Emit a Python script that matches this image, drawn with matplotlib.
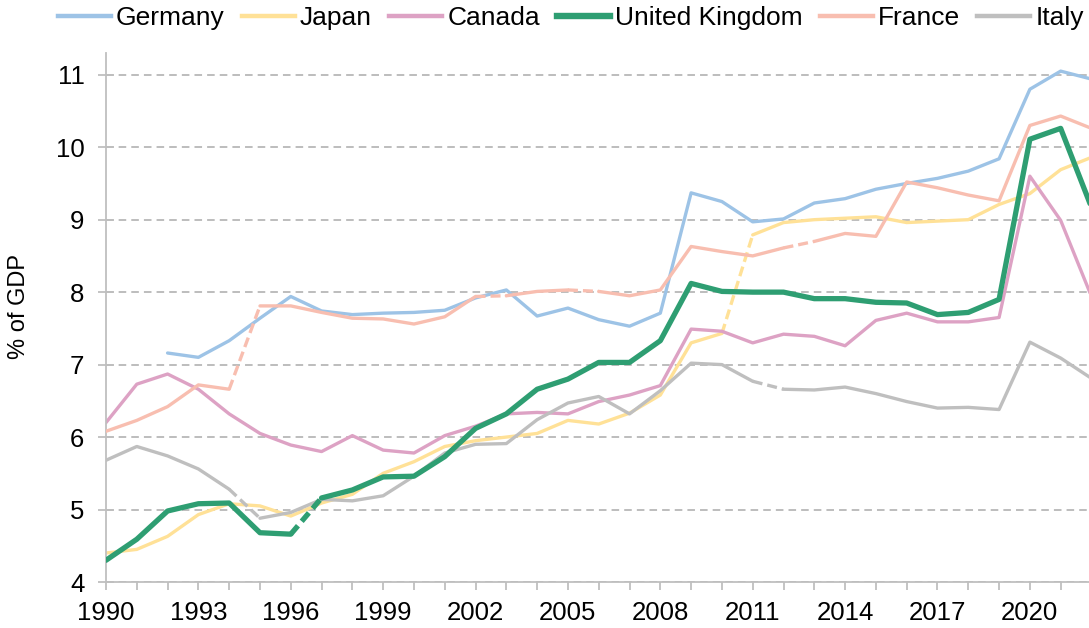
import numpy as np
import matplotlib
matplotlib.use("Agg")
import matplotlib.pyplot as plt
from matplotlib.lines import Line2D

plt.rcParams['font.family'] = ['Liberation Sans', 'DejaVu Sans']

years = list(range(1990, 2023))

nan = np.nan
germany = [nan, nan, 7.16, 7.10, 7.33, 7.64, 7.94, 7.74, 7.69, 7.71, 7.72, 7.75,
           7.92, 8.03, 7.67, 7.78, 7.62, 7.53, 7.71, 9.37, 9.25, 8.97, 9.01, 9.23,
           9.29, 9.42, 9.50, 9.57, 9.67, 9.84, 10.80, 11.05, 10.94]
japan = [4.40, 4.45, 4.63, 4.93, 5.08, 5.05, 4.91, 5.09, 5.21, 5.50, 5.66, 5.87,
         5.95, 6.00, 6.05, 6.23, 6.18, 6.33, 6.58, 7.30, 7.43, 8.79, 8.96, 9.00,
         9.02, 9.04, 8.96, 8.98, 9.00, 9.21, 9.36, 9.69, 9.86]
canada = [6.20, 6.73, 6.87, 6.66, 6.32, 6.05, 5.89, 5.80, 6.02, 5.82, 5.78, 6.02,
          6.15, 6.32, 6.34, 6.32, 6.49, 6.58, 6.71, 7.49, 7.46, 7.30, 7.42, 7.39,
          7.26, 7.61, 7.71, 7.59, 7.59, 7.65, 9.60, 8.99, 7.94]
uk = [4.30, 4.59, 4.98, 5.08, 5.09, 4.68, 4.66, 5.16, 5.27, 5.45, 5.46, 5.73,
      6.12, 6.32, 6.66, 6.80, 7.03, 7.03, 7.33, 8.12, 8.01, 8.00, 8.00, 7.91,
      7.91, 7.86, 7.85, 7.69, 7.72, 7.90, 10.11, 10.26, 9.17]
france = [6.08, 6.23, 6.42, 6.72, 6.66, 7.81, 7.81, 7.72, 7.64, 7.63, 7.56, 7.66,
          7.94, 7.95, 8.01, 8.03, 8.01, 7.95, 8.03, 8.63, 8.56, 8.50, 8.61, 8.70,
          8.81, 8.77, 9.52, 9.44, 9.34, 9.26, 10.30, 10.43, 10.26]
italy = [5.68, 5.87, 5.74, 5.56, 5.28, 4.88, 4.96, 5.14, 5.12, 5.19, 5.46, 5.78,
         5.90, 5.91, 6.24, 6.47, 6.56, 6.32, 6.64, 7.02, 7.00, 6.77, 6.66, 6.65,
         6.69, 6.60, 6.49, 6.40, 6.41, 6.38, 7.31, 7.09, 6.81]

# series break years: segment from year to year+1 is drawn dashed
names = ["Germany", "Japan", "Canada", "United Kingdom", "France", "Italy"]
series = [germany, japan, canada, uk, france, italy]
breaks = [[], [2010], [], [1996], [1994, 2002, 2005, 2012], [1994, 2011]]
colors = ['#9DC3E6', '#FFE197', '#DDA2C4', '#2E9E72', '#F8BEB0', '#BFBFBF']
widths = [2.4, 2.4, 2.4, 3.8, 2.4, 2.4]
zorders = [2, 2, 2, 4, 3, 2]

fig = plt.figure(figsize=(10.89, 6.28), dpi=100)
ax = fig.add_axes([106/1089, 46/628, 983/1089, 529/628])

for vals, brk, c, lw, z in zip(series, breaks, colors, widths, zorders):
    x = np.array(years)
    y = np.array(vals)
    run = [0]
    for i in range(len(x) - 1):
        if x[i] in brk:
            if len(run) > 1:
                ax.plot(x[run], y[run], color=c, lw=lw, zorder=z,
                        solid_capstyle='round', solid_joinstyle='round')
            ax.plot(x[i:i+2], y[i:i+2], color=c, lw=lw, zorder=z,
                    linestyle=(0, (3.0 if lw < 3 else 2.1, 1.5 if lw < 3 else 1.1)))
            run = [i + 1]
        else:
            run.append(i + 1)
    if len(run) > 1:
        ax.plot(x[run], y[run], color=c, lw=lw, zorder=z,
                solid_capstyle='round', solid_joinstyle='round')

ax.set_xlim(1990, 2021.92)
ax.set_ylim(4, 11.3)
ax.set_yticks(range(4, 12))
ax.set_xticks(years[:32])
ax.set_xticklabels([str(yr) if (yr - 1990) % 3 == 0 else '' for yr in years[:32]])

ax.set_axisbelow(True)
ax.yaxis.grid(True, color='#B8B8B8', lw=1.3, linestyle=(0, (4.2, 2.8)))
for s in ['top', 'right']:
    ax.spines[s].set_visible(False)
for s in ['left', 'bottom']:
    ax.spines[s].set_color('#BFBFBF')
    ax.spines[s].set_linewidth(1.3)

ax.tick_params(axis='x', direction='out', length=6, width=1.3, color='#BFBFBF',
               labelsize=18.5, pad=8)
ax.tick_params(axis='y', direction='inout', length=11, width=1.3, color='#BFBFBF',
               labelsize=18.5, pad=10)
ax.set_ylabel('% of GDP', fontsize=17)
ax.yaxis.set_label_coords(-0.077, 0.52)

handles = [Line2D([], [], color=c, lw=lw + 0.8) for c, lw in zip(colors, widths)]
fig.legend(handles, names, loc='center left', bbox_to_anchor=(58/1089, 1 - 18/628),
           ncol=6, frameon=False, fontsize=19, handlelength=2.0, handletextpad=0.2,
           columnspacing=0.65, borderpad=0, borderaxespad=0)

fig.savefig('out.png', dpi=100)
